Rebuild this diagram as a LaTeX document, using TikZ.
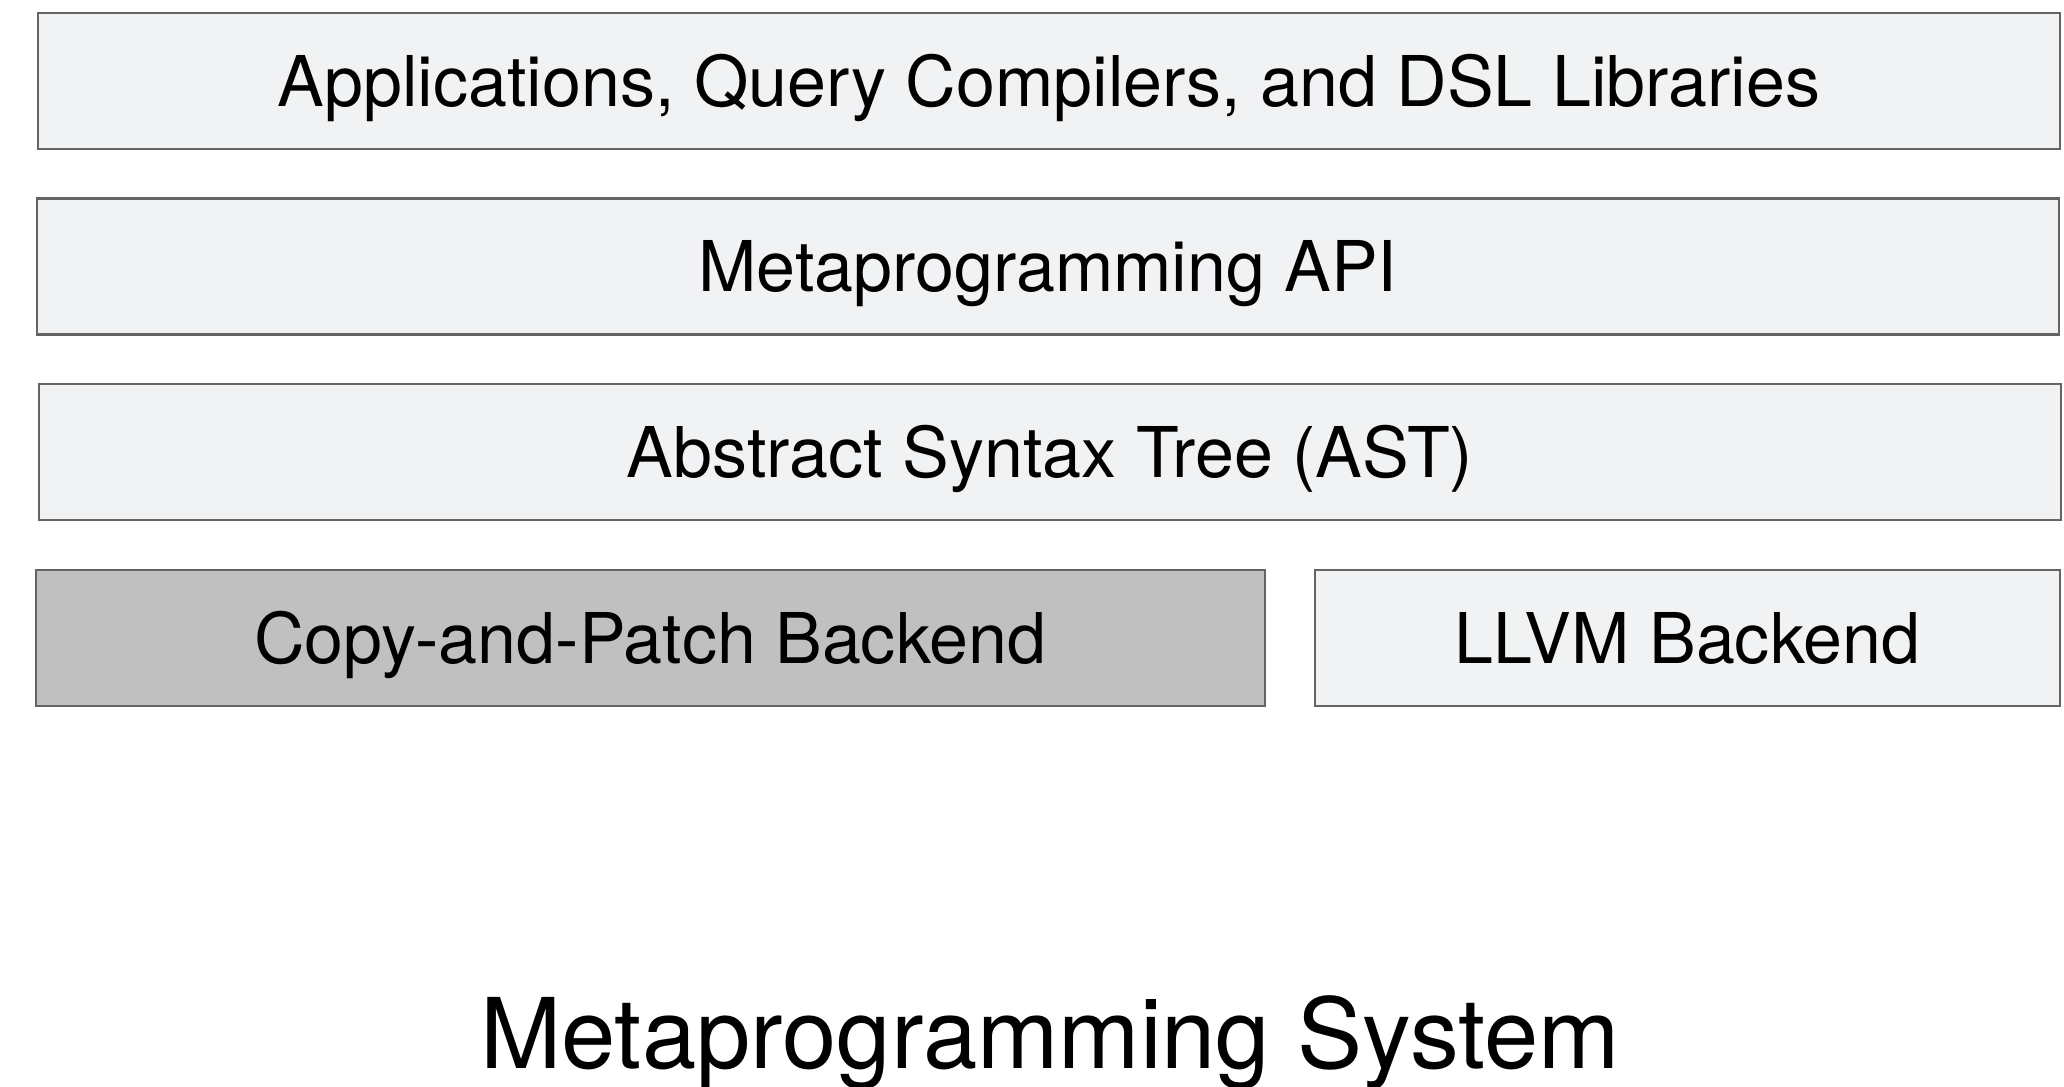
\documentclass[tikz,border=0pt]{standalone}
\usepackage{fontspec}
\setmainfont{TeX Gyre Heros}
\definecolor{layerfill}{RGB}{241,242,243}
\definecolor{layerdark}{RGB}{192,192,192}
\definecolor{layerline}{RGB}{100,100,100}

\tikzset{every picture/.style={line width=1.3pt}}
\tikzset{
  layer/.style={draw=layerline, fill=layerfill, rectangle, inner sep=0pt,
    minimum height=68pt, text height=25pt, text depth=0pt,
    font=\fontsize{35}{42}\selectfont},
  layerwide/.style={layer, minimum width=1011pt},
  layergrey/.style={layer, fill=layerdark}
}

\begin{document}
\begin{tikzpicture}[x=0.5pt,y=0.5pt,yscale=-1,xscale=1]
%set diagram left start at 0, and has height of 1086
\useasboundingbox (0,0) rectangle (2064,1086);

% Layers
\node [layerwide] (apps) at (1049,81) {Applications, Query Compilers, and DSL Libraries};
\node [layerwide] (metaapi) at (1048,266.5) {Metaprogramming API};
\node [layerwide] (ast) at (1050,452) {Abstract Syntax Tree (AST)};
% Backends
\node [layergrey, minimum width=614.5pt] (cpbackend) at (650.5,638) {Copy-and-Patch Backend};
\node [layer, minimum width=372.5pt] (llvmbackend) at (1687.5,638) {LLVM Backend};

% Text Node
\node [anchor=base, inner sep=0pt, font=\fontsize{48.8}{58}\selectfont] (title) at (1050,1068) {Metaprogramming System};

\end{tikzpicture}
\end{document}
